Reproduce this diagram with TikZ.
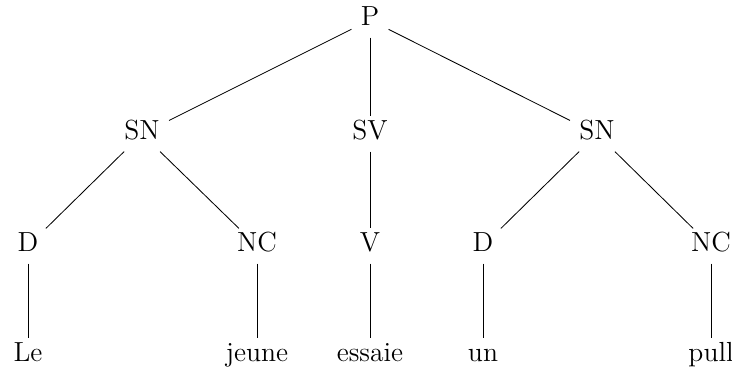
\documentclass[tikz,border=0pt]{standalone}
\begin{document}
\begin{tikzpicture}[x=1pt,y=1pt,
  lab/.style={font=\fontsize{13.8}{16}\selectfont, inner sep=4.5pt, text height=1.6ex, text depth=0.3ex},
  edge/.style={draw=black, line width=0.42pt}]
\useasboundingbox (0,0) rectangle (366,186);
\node[lab] (P) at (185,176) {P};
\node[lab] (SN1) at (71,119) {SN};
\node[lab] (SV) at (185,119) {SV};
\node[lab] (SN2) at (298.5,119) {SN};
\node[lab] (D1) at (14,63) {D};
\node[lab] (NC1) at (128.5,63) {NC};
\node[lab] (V) at (185,63) {V};
\node[lab] (D2) at (241.5,63) {D};
\node[lab] (NC2) at (355.5,63) {NC};
\node[lab] (w1) at (14,8) {Le};
\node[lab] (w2) at (128.5,8) {jeune};
\node[lab] (w3) at (185,8) {essaie};
\node[lab] (w4) at (241.5,8) {un};
\node[lab] (w5) at (355.5,8) {pull};
\draw[edge] (P) -- (SN1);
\draw[edge] (P) -- (SV);
\draw[edge] (P) -- (SN2);
\draw[edge] (SN1) -- (D1);
\draw[edge] (SN1) -- (NC1);
\draw[edge] (SV) -- (V);
\draw[edge] (SN2) -- (D2);
\draw[edge] (SN2) -- (NC2);
\draw[edge] (D1) -- (w1);
\draw[edge] (NC1) -- (w2);
\draw[edge] (V) -- (w3);
\draw[edge] (D2) -- (w4);
\draw[edge] (NC2) -- (w5);
\end{tikzpicture}
\end{document}
